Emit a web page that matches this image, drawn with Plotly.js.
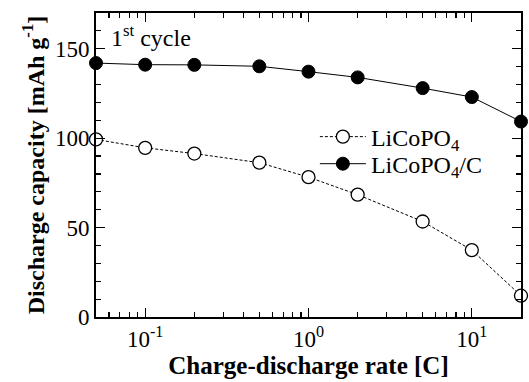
<!DOCTYPE html>
<html>
<head>
<meta charset="utf-8">
<script src="https://cdn.plot.ly/plotly-3.0.1.min.js"></script>
<style>html,body{margin:0;padding:0;background:#fff;}#chart{width:529px;height:382px;}</style>
</head>
<body>
<div id="chart"></div>
<script>
const rates = [0.05, 0.1, 0.2, 0.5, 1, 2, 5, 10, 20];
const licopo4 = [99.3, 94.6, 91.4, 86.3, 78.2, 68.4, 53.4, 37.4, 11.9];
const licopo4C = [142.0, 141.1, 141.0, 140.2, 137.2, 134.0, 128.0, 123.0, 109.3];
const xTickVals = [0.1, 1, 10];
const xTickText = ['10<sup>-1</sup>', '10<sup>0</sup>', '10<sup>1</sup>'];
const xMinorVals = [0.06, 0.07, 0.08, 0.09, 0.2, 0.3, 0.4, 0.5, 0.6, 0.7, 0.8, 0.9, 2, 3, 4, 5, 6, 7, 8, 9, 20];
const yTickVals = [0, 50, 100, 150];
const seriesNames = ['LiCoPO<sub>4</sub>', 'LiCoPO<sub>4</sub>/C'];

const serif = 'Liberation Serif';
const traces = [
  {
    x: rates, y: licopo4, name: seriesNames[0], type: 'scatter', mode: 'lines+markers',
    line: {color: '#000', width: 1, dash: '3px,2px'},
    marker: {symbol: 'circle', size: 13, color: '#fff', line: {color: '#000', width: 1.3}},
    cliponaxis: false, legend: 'legend'
  },
  {
    x: rates, y: licopo4C, name: seriesNames[1], type: 'scatter', mode: 'lines+markers',
    line: {color: '#000', width: 1},
    marker: {symbol: 'circle', size: 13, color: '#000', line: {color: '#000', width: 1}},
    cliponaxis: false, legend: 'legend2'
  }
];
const legendCommon = {xanchor: 'left', yanchor: 'middle', bgcolor: 'rgba(0,0,0,0)',
  font: {family: serif, size: 24, color: '#000'}, itemwidth: 46, borderwidth: 0};
const layout = {
  width: 529, height: 382,
  margin: {l: 96, r: 8, t: 13, b: 65},
  paper_bgcolor: '#fff', plot_bgcolor: '#fff',
  font: {family: serif, color: '#000', size: 23},
  showlegend: true,
  legend: Object.assign({x: 0.515, y: 0.592}, legendCommon),
  legend2: Object.assign({x: 0.515, y: 0.503}, legendCommon),
  xaxis: {
    type: 'log', range: [Math.log10(0.05), Math.log10(20)],
    tickvals: xTickVals, ticktext: xTickText,
    ticks: 'inside', ticklen: 9, tickwidth: 1.3, tickcolor: '#000',
    showline: true, linewidth: 2, linecolor: '#000', mirror: 'ticks',
    showgrid: false, zeroline: false,
    tickfont: {family: serif, size: 23},
    minor: {tickvals: xMinorVals, ticks: 'inside', ticklen: 5, tickwidth: 1.2, tickcolor: '#000', showgrid: false},
    title: {text: '<b>Charge-discharge rate [C]</b>', font: {family: serif, size: 25}, standoff: 1}
  },
  yaxis: {
    range: [0, 170], tickvals: yTickVals,
    ticks: 'inside', ticklen: 9, tickwidth: 1.3, tickcolor: '#000',
    showline: true, linewidth: 2, linecolor: '#000', mirror: 'ticks',
    showgrid: false, zeroline: false,
    tickfont: {family: serif, size: 23},
    minor: {dtick: 10, ticks: 'inside', ticklen: 5, tickwidth: 1.2, tickcolor: '#000', showgrid: false},
    title: {text: '<b>Discharge capacity [mAh g<sup>-1</sup>]</b>', font: {family: serif, size: 24}, standoff: 4}
  },
  annotations: [
    {xref: 'paper', yref: 'paper', x: 0.03, y: 0.925, xanchor: 'left', yanchor: 'middle',
     text: '1<sup>st</sup> cycle', showarrow: false, font: {family: serif, size: 24, color: '#000'}}
  ]
};
Plotly.newPlot('chart', traces, layout, {displayModeBar: false, staticPlot: true});
</script>
</body>
</html>
